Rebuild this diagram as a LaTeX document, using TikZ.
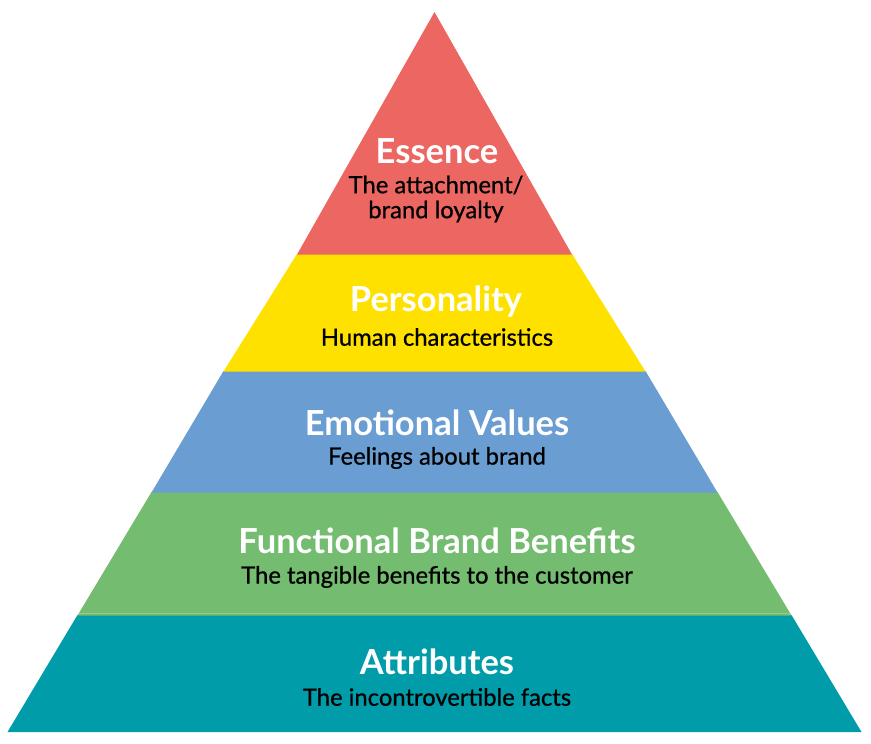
\documentclass[tikz,border=0pt]{standalone}
\usepackage{fontspec}
\setmainfont{Lato}
\newfontfamily\subfont[FakeBold=0.8]{Lato}
\definecolor{cRed}{HTML}{EC6762}
\definecolor{cYellow}{HTML}{FFE100}
\definecolor{cBlue}{HTML}{6A9ED3}
\definecolor{cGreen}{HTML}{74BC6F}
\definecolor{cGreenLine}{HTML}{9ACB87}
\definecolor{cTeal}{HTML}{009CAA}
\tikzset{
  title/.style={text=white, font=\fontsize{34.5}{38}\selectfont\bfseries, inner sep=0pt, anchor=center},
  sub/.style={text=black, font=\subfont\fontsize{23.8}{25}\selectfont, inner sep=0pt, anchor=center, align=center}
}
\begin{document}
\begin{tikzpicture}[x=1pt,y=-1pt]
\useasboundingbox (0,0) rectangle (871,744);
% bands
\fill[cTeal] (77.5,615) -- (791.5,615) -- (861.5,732) -- (7.5,732) -- cycle;
\fill[cGreen] (151.5,492) -- (717.5,492) -- (791.5,615.5) -- (77.5,615.5) -- cycle;
\draw[cGreenLine, line width=1.2pt] (79,613.5) -- (790,613.5);
\fill[cBlue] (223.5,371) -- (645.5,371) -- (717.5,492.5) -- (151.5,492.5) -- cycle;
\fill[cYellow] (297,254) -- (572,254) -- (645.5,371.5) -- (223.5,371.5) -- cycle;
\fill[cRed] (434.5,12) -- (572,254.5) -- (297,254.5) -- cycle;
% texts
\node[title] (t1) at (437,151) {Essence};
\node[sub] (s1) at (436,199) {The attachment/\\brand loyalty};
\node[title] (t2) at (436,302) {Personality};
\node[sub] (s2) at (437,337) {Human characteristics};
\node[title] (t3) at (437,423) {Emotional Values};
\node[sub] (s3) at (437,458) {Feelings about brand};
\node[title] (t4) at (437,541) {Functional Brand Benefits};
\node[sub] (s4) at (437,577) {The tangible benefits to the customer};
\node[title] (t5) at (437,662) {Attributes};
\node[sub] (s5) at (437,697) {The incontrovertible facts};
\end{tikzpicture}
\end{document}
